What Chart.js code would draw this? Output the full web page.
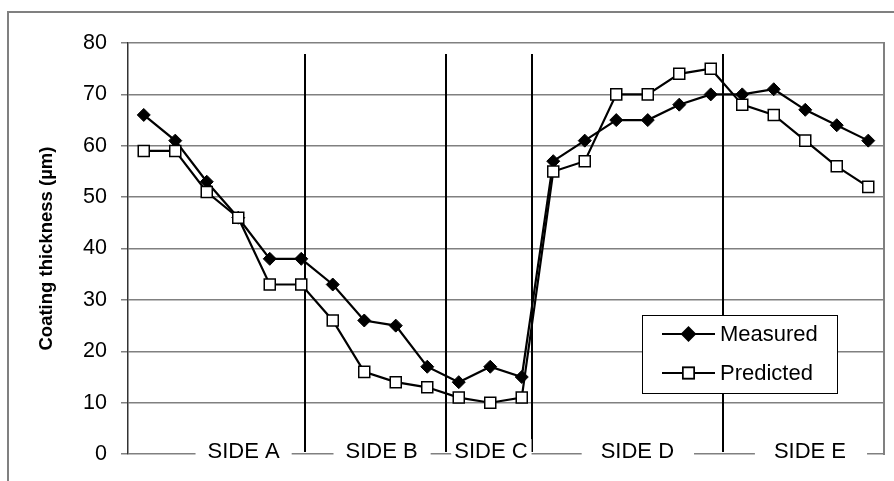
<!DOCTYPE html>
<html>
<head>
<meta charset="utf-8">
<script src="https://cdn.jsdelivr.net/npm/chart.js@4.4.1/dist/chart.umd.min.js"></script>
<style>
    html, body { margin: 0; padding: 0; background: #fff; }
    #chart { display: block; }
</style>
</head>
<body>
<canvas id="chart" width="894" height="481"></canvas>
<script>
// measurement points along the part (x categories, labels not shown)
const pointLabels = ['1', '2', '3', '4', '5', '6', '7', '8', '9', '10', '11', '12',
    '13', '14', '15', '16', '17', '18', '19', '20', '21', '22', '23', '24'];

const measured = [66, 61, 53, 46, 38, 38, 33, 26, 25, 17, 14, 17,
    15, 57, 61, 65, 65, 68, 70, 70, 71, 67, 64, 61];
const predicted = [59, 59, 51, 46, 33, 33, 26, 16, 14, 13, 11, 10,
    11, 55, 57, 70, 70, 74, 75, 68, 66, 61, 56, 52];

// side names along the bottom, and where they sit (in category units)
const sideNames = ['SIDE A', 'SIDE B', 'SIDE C', 'SIDE D', 'SIDE E'];
const sideCenters = [3.17, 7.55, 11.02, 15.67, 21.15];
const sidePads = [[12, 12], [12, 13], [3, 4], [19, 20], [19, 21]];
// vertical lines between the sides (category units)
const sideBreaks = [5.13, 9.61, 12.31, 18.38];

const yTicks = [0, 10, 20, 30, 40, 50, 60, 70, 80];

const FONT = "'Liberation Sans', Arial, sans-serif";

const overlay = {
    id: 'overlay',
    beforeDatasetsDraw(chart) {
        const { ctx, chartArea: a, scales: { x } } = chart;
        ctx.save();
        // plot right border
        ctx.strokeStyle = '#808080';
        ctx.lineWidth = 2;
        ctx.beginPath();
        ctx.moveTo(a.right, a.top - 1);
        ctx.lineTo(a.right, a.bottom + 1);
        ctx.stroke();

        // side separators
        ctx.strokeStyle = '#000';
        ctx.lineWidth = 2;
        sideBreaks.forEach(v => {
            const px = Math.round(x.getPixelForValue(v));
            ctx.beginPath();
            ctx.moveTo(px, a.top + 11);
            ctx.lineTo(px, a.bottom - 2);
            ctx.stroke();
        });
        ctx.restore();
    },
    afterDraw(chart) {
        const { ctx, chartArea: a, scales: { x } } = chart;
        ctx.save();

        // outer chart frame (top and left)
        ctx.strokeStyle = '#808080';
        ctx.lineWidth = 2;
        ctx.beginPath();
        ctx.moveTo(8, chart.height);
        ctx.lineTo(8, 12);
        ctx.lineTo(chart.width, 12);
        ctx.stroke();

        // side labels with white boxes over the axis line
        ctx.font = '22px ' + FONT;
        ctx.textBaseline = 'middle';
        ctx.textAlign = 'center';
        sideNames.forEach((name, i) => {
            const cx = x.getPixelForValue(sideCenters[i]);
            const w = ctx.measureText(name).width;
            ctx.fillStyle = '#fff';
            ctx.fillRect(cx - w / 2 - sidePads[i][0], a.bottom - 15, w + sidePads[i][0] + sidePads[i][1], 40);
            ctx.fillStyle = '#000';
            ctx.fillText(name, cx, a.bottom - 2);
        });

        // legend box
        const bx = 642, by = 315, bw = 195, bh = 78;
        ctx.fillStyle = '#fff';
        ctx.fillRect(bx, by, bw, bh);
        ctx.strokeStyle = '#000';
        ctx.lineWidth = 1;
        ctx.strokeRect(bx + 0.5, by + 0.5, bw, bh);

        const rows = [by + 19, by + 58];
        chart.data.datasets.forEach((ds, i) => {
            const ry = rows[i];
            ctx.strokeStyle = '#000';
            ctx.lineWidth = 2;
            ctx.beginPath();
            ctx.moveTo(bx + 20, ry);
            ctx.lineTo(bx + 73, ry);
            ctx.stroke();
            Chart.helpers.drawPoint(ctx, {
                pointStyle: ds.pointStyle,
                radius: ds.pointRadius,
                borderWidth: ds.pointBorderWidth
            }, bx + 46.5, ry);
            ctx.fillStyle = ds.pointBackgroundColor;
            ctx.strokeStyle = '#000';
            ctx.lineWidth = ds.pointBorderWidth;
            ctx.fill();
            ctx.stroke();
            ctx.fillStyle = '#000';
            ctx.font = '22px ' + FONT;
            ctx.textAlign = 'left';
            ctx.textBaseline = 'middle';
            ctx.fillText(ds.label, bx + 78, ry + 1);
        });
        ctx.restore();
    }
};

new Chart(document.getElementById('chart'), {
    type: 'line',
    data: {
        labels: pointLabels,
        datasets: [
            {
                label: 'Measured',
                data: measured,
                borderColor: '#000',
                borderWidth: 2.2,
                pointStyle: 'rectRot',
                pointRadius: 6.5,
                pointBorderWidth: 1,
                pointBackgroundColor: '#000',
                pointBorderColor: '#000',
                tension: 0,
                order: 1
            },
            {
                label: 'Predicted',
                data: predicted,
                borderColor: '#000',
                borderWidth: 2.2,
                pointStyle: 'rect',
                pointRadius: 7.8,
                pointBorderWidth: 1.5,
                pointBackgroundColor: '#fff',
                pointBorderColor: '#000',
                tension: 0,
                order: 0
            }
        ]
    },
    options: {
        responsive: false,
        animation: false,
        layout: { padding: { left: 8, top: 43, right: 10, bottom: 0 } },
        plugins: {
            legend: { display: false },
            tooltip: { enabled: false }
        },
        scales: {
            x: {
                type: 'category',
                offset: true,
                grid: { display: false },
                border: { display: false },
                ticks: { display: false },
                afterFit: (scale) => { scale.height = 23.5; }
            },
            y: {
                min: 0,
                max: 80,
                afterBuildTicks: (scale) => {
                    scale.ticks = yTicks.map(v => ({ value: v }));
                },
                ticks: {
                    color: '#000',
                    padding: 14,
                    font: { family: FONT, size: 21.5 }
                },
                grid: {
                    color: '#808080',
                    lineWidth: 1.5,
                    tickLength: 7
                },
                border: { color: '#333', width: 1.5 },
                title: {
                    display: true,
                    text: 'Coating thickness (µm)',
                    color: '#000',
                    font: { family: FONT, size: 18.5, weight: 'bold' },
                    padding: { top: 28, bottom: 0 }
                },
                afterFit: (scale) => { scale.width = 120; }
            }
        }
    },
    plugins: [overlay]
});
</script>
</body>
</html>
